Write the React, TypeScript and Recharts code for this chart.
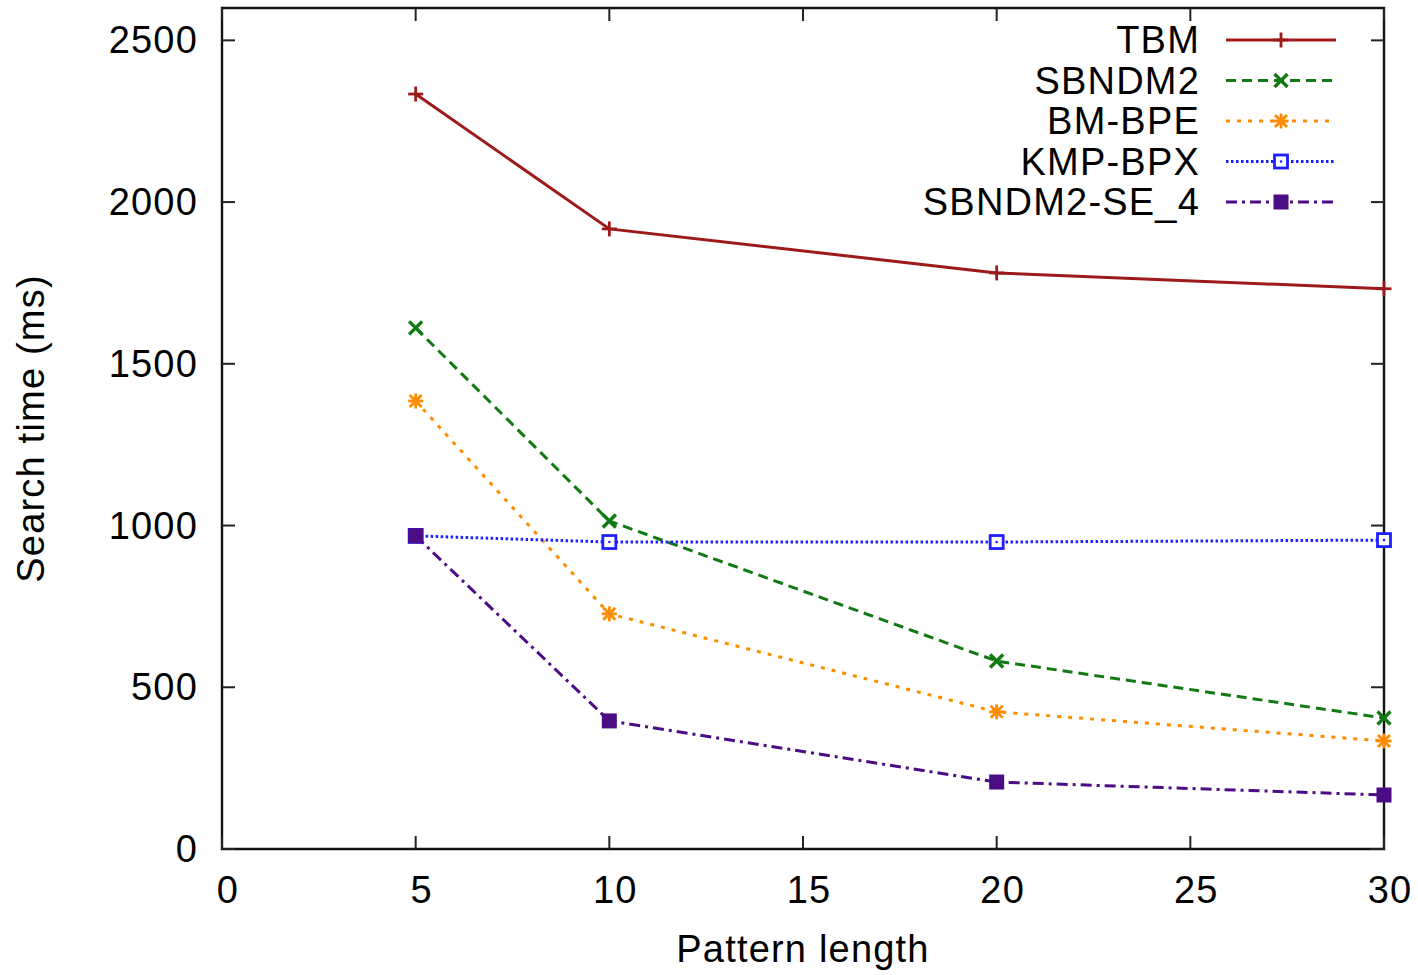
import { LineChart, Line, XAxis, YAxis, Legend, ReferenceArea, Label } from 'recharts';

// pattern lengths on the x axis
const patternLengths = [5, 10, 20, 30];

// search time (ms) per algorithm
const tbm = [2334, 1917, 1781, 1732];
const sbndm2 = [1611, 1014, 581, 405];
const bmBpe = [1385, 727, 424, 334];
const kmpBpx = [968, 949, 949, 955];
const sbndm2Se4 = [968, 396, 207, 167];

const xTicks = [0, 5, 10, 15, 20, 25, 30];
const yTicks = [0, 500, 1000, 1500, 2000, 2500];

const FONT = '"Liberation Sans", Arial, Helvetica, sans-serif';
const FS = 38;
const LS = 1.2;

// plot box (px)
const W = 1418;
const H = 975;
const M = { top: 8, right: 34 };
const Y_AXIS_W = 222;
const X_AXIS_H = 126;
const PLOT_L = Y_AXIS_W;
const PLOT_R = W - M.right;
const PLOT_T = M.top;
const PLOT_B = H - X_AXIS_H;
const TICK = 13;

type Marker = 'plus' | 'cross' | 'star' | 'box' | 'fbox';

const series: { key: string; name: string; values: number[]; color: string; dash?: string; marker: Marker }[] = [
  { key: 'tbm', name: 'TBM', values: tbm, color: '#9e1a1a', marker: 'plus' },
  { key: 'sbndm2', name: 'SBNDM2', values: sbndm2, color: '#127a12', dash: '10 6', marker: 'cross' },
  { key: 'bmbpe', name: 'BM-BPE', values: bmBpe, color: '#ff8c00', dash: '4 7', marker: 'star' },
  { key: 'kmpbpx', name: 'KMP-BPX', values: kmpBpx, color: '#1f1fff', dash: '2.5 2.5', marker: 'box' },
  { key: 'se4', name: 'SBNDM2-SE_4', values: sbndm2Se4, color: '#4b0c86', dash: '11 5 3 5', marker: 'fbox' },
];

const chartData = patternLengths.map((len, i) => {
  const row: { [k: string]: number } = { len };
  series.forEach((s) => {
    row[s.key] = s.values[i];
  });
  return row;
});

const drawMarker = (m: Marker, cx: number, cy: number, color: string, key?: string) => {
  const sw = 2.8;
  switch (m) {
    case 'plus':
      return (
        <g key={key}>
          <line x1={cx - 7.5} y1={cy} x2={cx + 7.5} y2={cy} stroke={color} strokeWidth={sw} />
          <line x1={cx} y1={cy - 7.5} x2={cx} y2={cy + 7.5} stroke={color} strokeWidth={sw} />
        </g>
      );
    case 'cross':
      return (
        <g key={key}>
          <line x1={cx - 6.5} y1={cy - 6.5} x2={cx + 6.5} y2={cy + 6.5} stroke={color} strokeWidth={sw + 0.6} />
          <line x1={cx - 6.5} y1={cy + 6.5} x2={cx + 6.5} y2={cy - 6.5} stroke={color} strokeWidth={sw + 0.6} />
        </g>
      );
    case 'star':
      return (
        <g key={key}>
          <line x1={cx - 7.5} y1={cy} x2={cx + 7.5} y2={cy} stroke={color} strokeWidth={sw} />
          <line x1={cx} y1={cy - 7.5} x2={cx} y2={cy + 7.5} stroke={color} strokeWidth={sw} />
          <line x1={cx - 6} y1={cy - 6} x2={cx + 6} y2={cy + 6} stroke={color} strokeWidth={sw} />
          <line x1={cx - 6} y1={cy + 6} x2={cx + 6} y2={cy - 6} stroke={color} strokeWidth={sw} />
        </g>
      );
    case 'box':
      return (
        <g key={key}>
          <rect x={cx - 6.5} y={cy - 6.5} width={13} height={13} fill="#fff" stroke={color} strokeWidth={sw} />
          <circle cx={cx} cy={cy} r={1.3} fill={color} />
        </g>
      );
    default:
      return <rect key={key} x={cx - 7.5} y={cy - 7.5} width={15} height={15} fill={color} />;
  }
};

const YTick = ({ x, y, payload }: any) => (
  <g>
    <line x1={PLOT_L} y1={y} x2={PLOT_L + TICK} y2={y} stroke="#222" strokeWidth={2} />
    <line x1={PLOT_R - TICK} y1={y} x2={PLOT_R} y2={y} stroke="#222" strokeWidth={2} />
    <text x={x - 24} y={y + 13} textAnchor="end" fontFamily={FONT} fontSize={FS} letterSpacing={LS} fill="#000">
      {payload.value}
    </text>
  </g>
);

const XTick = ({ x, y, payload }: any) => (
  <g>
    <line x1={x} y1={PLOT_B} x2={x} y2={PLOT_B - TICK} stroke="#222" strokeWidth={2} />
    <line x1={x} y1={PLOT_T} x2={x} y2={PLOT_T + TICK} stroke="#222" strokeWidth={2} />
    <text x={x + 6} y={y + 54} textAnchor="middle" fontFamily={FONT} fontSize={FS} letterSpacing={LS} fill="#000">
      {payload.value}
    </text>
  </g>
);

const LEG_X = 900;
const renderLegend = () => (
  <svg width={500} height={230} style={{ display: 'block' }}>
    {series.map((s, i) => {
      const cy = 40 + i * 40.5;
      return (
        <g key={s.key}>
          <text
            x={1200 - LEG_X}
            y={cy + 13}
            textAnchor="end"
            fontFamily={FONT}
            fontSize={FS}
            letterSpacing={LS}
            fill="#000"
          >
            {s.name}
          </text>
          <line
            x1={1226 - LEG_X}
            y1={cy}
            x2={1336 - LEG_X}
            y2={cy}
            stroke={s.color}
            strokeWidth={3}
            strokeDasharray={s.dash}
          />
          {drawMarker(s.marker, 1281 - LEG_X, cy, s.color)}
        </g>
      );
    })}
  </svg>
);

export default function App() {
  return (
    <div style={{ position: 'absolute', left: 0, top: 0, background: '#fff' }}>
      <LineChart width={W} height={H} data={chartData} margin={{ top: M.top, right: M.right, bottom: 0, left: 0 }}>
        <ReferenceArea x1={0} x2={30} y1={0} y2={2600} fill="none" fillOpacity={0} stroke="#111" strokeWidth={2.4} />
        <XAxis
          dataKey="len"
          type="number"
          domain={[0, 30]}
          ticks={xTicks}
          height={X_AXIS_H}
          tickSize={0}
          tickMargin={0}
          tickLine={false}
          axisLine={false}
          tick={<XTick />}
          interval={0}
        >
          <Label
            value="Pattern length"
            position="insideBottom"
            offset={13}
            style={{ fontFamily: FONT, fontSize: FS, letterSpacing: LS, fill: '#000' }}
          />
        </XAxis>
        <YAxis
          type="number"
          domain={[0, 2600]}
          ticks={yTicks}
          width={Y_AXIS_W}
          tickSize={0}
          tickMargin={0}
          tickLine={false}
          axisLine={false}
          tick={<YTick />}
          interval={0}
        >
          <Label
            value="Search time (ms)"
            angle={-90}
            position="insideLeft"
            offset={0}
            dx={31}
            style={{ fontFamily: FONT, fontSize: FS, letterSpacing: LS, fill: '#000', textAnchor: 'middle' }}
          />
        </YAxis>
        {series.map((s) => (
          <Line
            key={s.key}
            dataKey={s.key}
            name={s.name}
            type="linear"
            stroke={s.color}
            strokeWidth={3}
            strokeDasharray={s.dash}
            isAnimationActive={false}
            dot={(p: any) => drawMarker(s.marker, p.cx, p.cy, s.color, `${s.key}-${p.index}`)}
            activeDot={false}
          />
        ))}
        <Legend
          layout="vertical"
          align="center"
          verticalAlign="middle"
          content={renderLegend}
          wrapperStyle={{ position: 'absolute', left: LEG_X, top: 0, width: 500, height: 230 }}
        />
      </LineChart>
    </div>
  );
}
